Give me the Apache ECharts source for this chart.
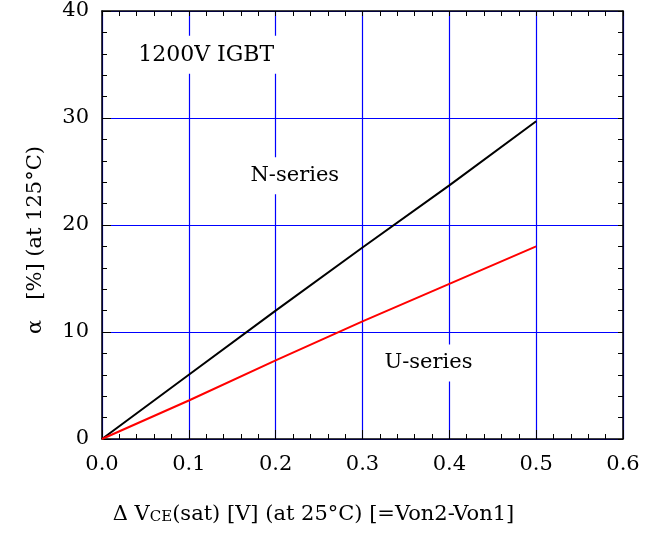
<!DOCTYPE html>
<html><head><meta charset="utf-8">
<script src="https://cdn.jsdelivr.net/npm/echarts@6/dist/echarts.min.js"></script>
<style>html,body{margin:0;padding:0;background:#fff}#c{width:650px;height:533px}</style>
</head><body><div id="c"></div>
<script>
var xValues = [0, 0.1, 0.2, 0.3, 0.4, 0.5];
var nSeries = [0, 6.0, 12.0, 17.9, 23.7, 29.7];
var uSeries = [0, 3.6, 7.35, 11.0, 14.5, 18.0];
var annotations = [
  {text: '1200V IGBT', x: 0.12, y: 35.9},
  {text: 'N‐series', x: 0.222, y: 24.6},
  {text: 'U‐series', x: 0.376, y: 7.1}
];
var FONT = 'DejaVu Serif';
function pairs(xs, ys){ return xs.map(function(x,i){ return [x, ys[i]]; }); }
var chart = echarts.init(document.getElementById('c'));
var tickStyle = {show:true, inside:true, length:9, lineStyle:{color:'#000', width:1}};
var minorStyle = {show:true, splitNumber:5, length:5, lineStyle:{color:'#000', width:1}};
chart.setOption({
  animation:false,
  backgroundColor:'#fff',
  grid:{left:102, right:27, top:11, bottom:94, containLabel:false},
  xAxis:[{
    type:'value', min:0, max:0.6, interval:0.1, position:'bottom',
    axisLine:{show:true, onZero:false, lineStyle:{color:'#000', width:1.5}},
    axisTick:tickStyle, minorTick:minorStyle,
    axisLabel:{color:'#000', fontFamily:FONT, fontSize:21, margin:15, formatter:function(v){return v.toFixed(1);}},
    splitLine:{show:true, lineStyle:{color:'#0000ff', width:1.2}},
    name:'{t|Δ V}{s|CE}{t|(sat) [V] (at 25°C) [=Von2‐Von1]}',
    nameLocation:'middle', nameGap:65,
    nameTextStyle:{padding:[0,98,0,0], rich:{t:{fontFamily:FONT, fontSize:21, color:'#000'}, s:{fontFamily:FONT, fontSize:15, color:'#000', verticalAlign:'bottom'}}}
  },{
    type:'value', min:0, max:0.6, interval:0.1, position:'top',
    axisLine:{show:true, onZero:false, lineStyle:{color:'#000', width:1.5}},
    axisTick:{show:true, inside:true, length:5, lineStyle:{color:'#000'}}, minorTick:minorStyle,
    axisLabel:{show:false}, splitLine:{show:false}
  }],
  yAxis:[{
    type:'value', min:0, max:40, interval:10, position:'left',
    axisLine:{show:true, onZero:false, lineStyle:{color:'#000', width:1.5}},
    axisTick:tickStyle, minorTick:minorStyle,
    axisLabel:{color:'#000', fontFamily:FONT, fontSize:21, margin:13},
    splitLine:{show:true, lineStyle:{color:'#0000ff', width:1.2}},
    name:'α   [%] (at 125°C)', nameLocation:'middle', nameGap:56, nameRotate:90,
    nameTextStyle:{fontFamily:FONT, fontSize:21, color:'#000', padding:[0,30,0,0]}
  },{
    type:'value', min:0, max:40, interval:10, position:'right',
    axisLine:{show:true, onZero:false, lineStyle:{color:'#000', width:1.5}},
    axisTick:{show:true, inside:true, length:5, lineStyle:{color:'#000'}}, minorTick:minorStyle,
    axisLabel:{show:false}, splitLine:{show:false}
  }],
  series:[
    {type:'line', name:'N-series', data:pairs(xValues, nSeries), showSymbol:false, symbol:'none', lineStyle:{color:'#000', width:2}, z:3},
    {type:'line', name:'U-series', data:pairs(xValues, uSeries), showSymbol:false, symbol:'none', lineStyle:{color:'#ff0000', width:2}, z:3},
    {type:'scatter', symbolSize:0, silent:true, z:4, itemStyle:{opacity:1},
     data:annotations.map(function(a, i){ return {value:[a.x, a.y], name:a.text, label:{fontSize: i === 0 ? 22 : 21}}; }),
     label:{show:true, position:'inside', formatter:'{b}', fontFamily:FONT, fontSize:21, color:'#000', opacity:1, textBorderWidth:0, backgroundColor:'#fff', padding:[8,3]}}
  ]
});
</script></body></html>
